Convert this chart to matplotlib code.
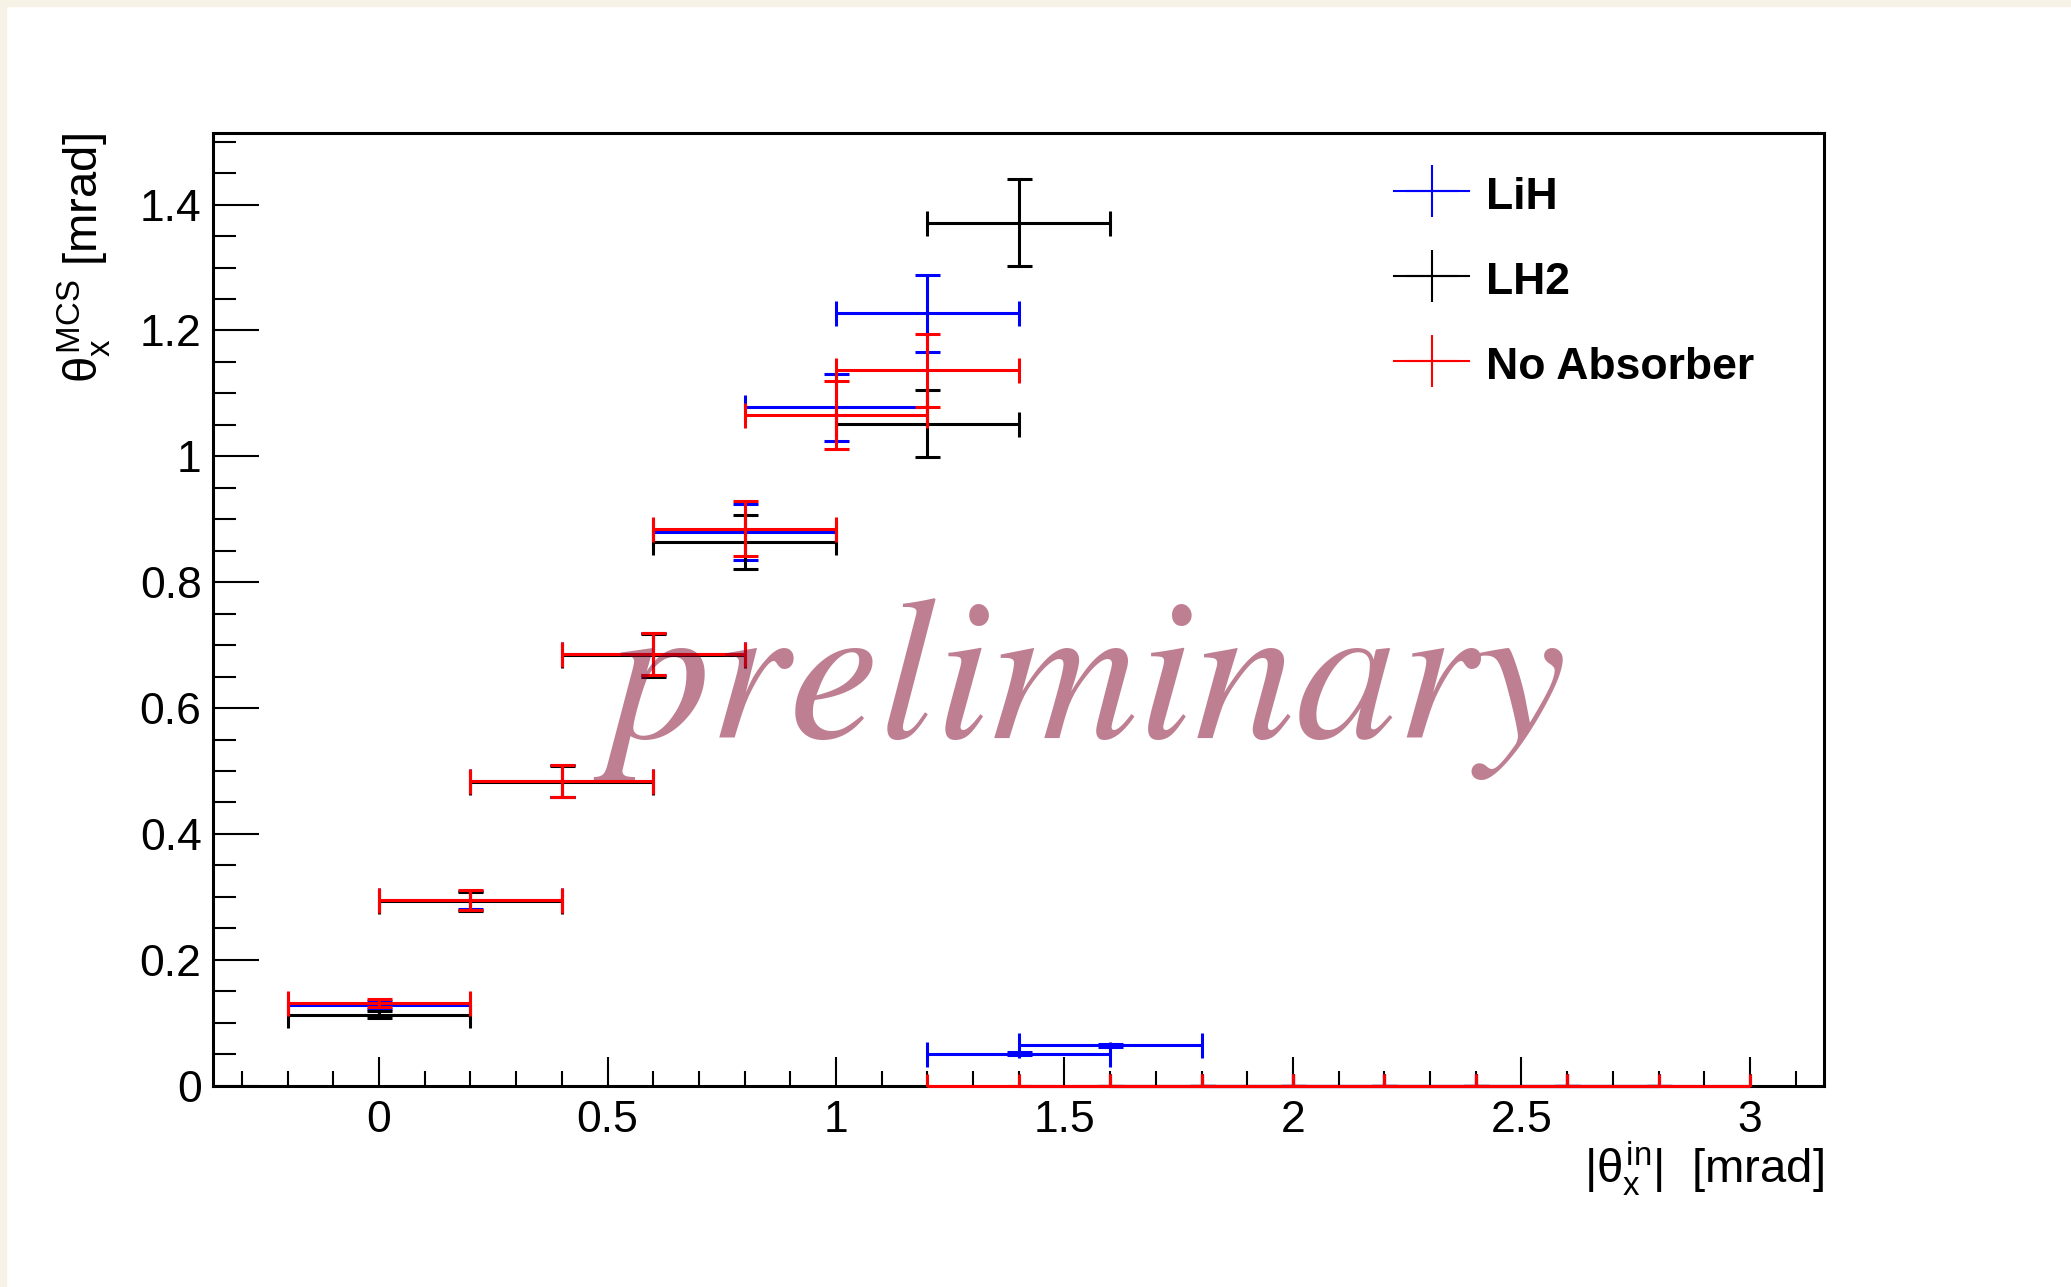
import numpy as np
import matplotlib
matplotlib.use("Agg")
import matplotlib.pyplot as plt
from matplotlib.lines import Line2D
from matplotlib.patches import Rectangle
from matplotlib.ticker import MultipleLocator, FuncFormatter

plt.rcParams['font.family'] = ['Liberation Sans', 'DejaVu Sans']
plt.rcParams['mathtext.fontset'] = 'custom'
plt.rcParams['mathtext.rm'] = 'Liberation Sans'
plt.rcParams['mathtext.it'] = 'Liberation Sans'
plt.rcParams['mathtext.bf'] = 'Liberation Sans:bold'

# --- data ---
bin_half = 0.2

lih_x = [0.0, 0.2, 0.4, 0.6, 0.8, 1.0, 1.2, 1.4, 1.6, 1.8, 2.0, 2.2, 2.4, 2.6, 2.8]
lih_y = [0.128, 0.295, 0.484, 0.686, 0.880, 1.078, 1.227, 0.051, 0.064, 0, 0, 0, 0, 0, 0]
lih_err = [0.006, 0.015, 0.025, 0.034, 0.045, 0.053, 0.061, 0.002, 0.002, 0, 0, 0, 0, 0, 0]

lh2_x = [0.0, 0.2, 0.4, 0.6, 0.8, 1.2, 1.4, 1.6, 1.8, 2.0, 2.2, 2.4, 2.6, 2.8]
lh2_y = [0.113, 0.293, 0.483, 0.684, 0.864, 1.052, 1.371, 0, 0, 0, 0, 0, 0, 0]
lh2_err = [0.005, 0.015, 0.025, 0.034, 0.0435, 0.053, 0.069, 0, 0, 0, 0, 0, 0, 0]

noabs_x = [0.0, 0.2, 0.4, 0.6, 0.8, 1.0, 1.2, 1.4, 1.6, 1.8, 2.0, 2.2, 2.4, 2.6, 2.8]
noabs_y = [0.131, 0.2945, 0.4845, 0.686, 0.885, 1.066, 1.137, 0, 0, 0, 0, 0, 0, 0, 0]
noabs_err = [0.006, 0.016, 0.025, 0.034, 0.044, 0.054, 0.058, 0, 0, 0, 0, 0, 0, 0, 0]

series = [
    ("LiH", "#0000ff", lih_x, lih_y, lih_err),
    ("LH2", "#000000", lh2_x, lh2_y, lh2_err),
    ("No Absorber", "#ff0000", noabs_x, noabs_y, noabs_err),
]

# --- figure ---
fig = plt.figure(figsize=(20.71, 12.87), dpi=100)
fig.patches.append(Rectangle((0, 1 - 6 / 1287), 1, 6 / 1287, transform=fig.transFigure,
                             color="#f6f2e6", zorder=0))
fig.patches.append(Rectangle((0, 0), 6 / 2071, 1, transform=fig.transFigure,
                             color="#f6f2e6", zorder=0))

ax = fig.add_axes([0.1027, 0.1564, 0.778, 0.7399])

for name, col, xs, ys, es in series:
    eb = ax.errorbar(xs, ys, xerr=bin_half, yerr=es, fmt="none", ecolor=col,
                     elinewidth=2.2, capsize=9, capthick=2.2, zorder=3)
    # bars sitting on the axis line should show in full
    for art in eb.lines[2]:
        art.set_clip_on(False)

ax.set_xlim(-0.364, 3.162)
ax.set_ylim(0, 1.513)

fmt = FuncFormatter(lambda v, p: "%g" % round(v, 3))
ax.xaxis.set_major_locator(MultipleLocator(0.5))
ax.xaxis.set_minor_locator(MultipleLocator(0.1))
ax.yaxis.set_major_locator(MultipleLocator(0.2))
ax.yaxis.set_minor_locator(MultipleLocator(0.05))
ax.xaxis.set_major_formatter(fmt)
ax.yaxis.set_major_formatter(fmt)

ax.tick_params(axis="both", which="both", direction="in", top=False, right=False, width=1.5)
ax.tick_params(axis="x", which="major", length=21, labelsize=32, pad=10)
ax.tick_params(axis="x", which="minor", length=11)
ax.tick_params(axis="y", which="major", length=33, labelsize=32, pad=8)
ax.tick_params(axis="y", which="minor", length=16.5)
for sp in ax.spines.values():
    sp.set_linewidth(2.2)

ax.set_xlabel(r"$|\theta_{x}^{in}|$  [mrad]", fontsize=34, loc="right", va="baseline")
ax.xaxis.set_label_coords(1.0, -0.102)
ax.set_ylabel(r"$\theta_{x}^{MCS}$ [mrad]", fontsize=34, loc="top", va="center")
ax.yaxis.set_label_coords(-0.080, 1.0)

# legend: crosses, no frame
handles = [Line2D([0], [0], color=c, lw=1.5, marker="+", markersize=37, markeredgewidth=1.5)
           for _, c, _, _, _ in series]
labels = [s[0] for s in series]
ax.legend(handles, labels, loc="upper left", bbox_to_anchor=(0.733, 0.958), frameon=False,
          prop={"weight": "bold", "size": 32}, handlelength=1.7, handleheight=1.0,
          handletextpad=0.38, labelspacing=0.92, borderpad=0, borderaxespad=0)

# watermark
ax.text(0.543, 0.365, "preliminary", transform=ax.transAxes, ha="center", va="baseline",
        fontsize=146, fontstyle="italic", family="STIXGeneral",
        color="#800028", alpha=0.5, zorder=5)

fig.savefig("out.png", dpi=100)
